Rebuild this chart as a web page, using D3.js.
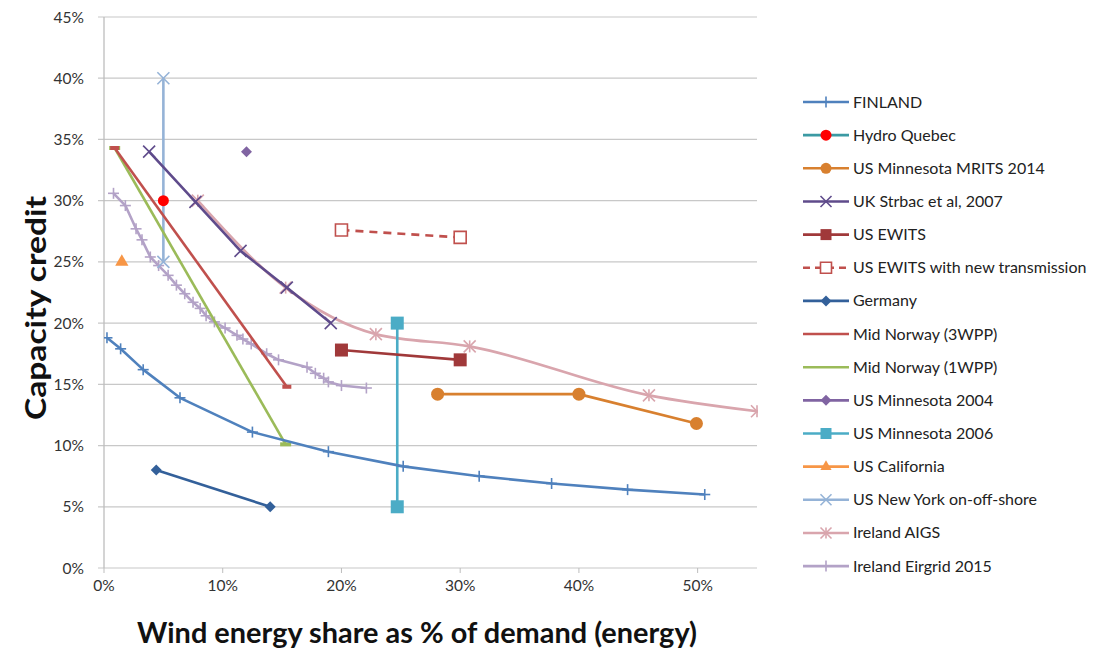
<!DOCTYPE html>
<html>
<head>
<meta charset="utf-8">
<script src="https://cdn.jsdelivr.net/npm/d3@7.9.0/dist/d3.min.js"></script>
<style>
  body { margin: 0; background: #fff; }
  svg { display: block; font-family: Lato, "Open Sans", sans-serif; }
</style>
</head>
<body>
<svg id="chart" width="1100" height="649"></svg>
<script>
// values, [wind share %, capacity credit %]
const finland = [[0.25, 18.8], [1.4, 17.9], [3.3, 16.2], [6.4, 13.9], [12.5, 11.1], [18.9, 9.5],
  [25.2, 8.3], [31.6, 7.5], [37.7, 6.9], [44.1, 6.4], [50.6, 6.0]];
const hydroQuebec = [[5.0, 30.0]];
const mritsMn2014 = [[28.1, 14.2], [40.0, 14.2], [49.9, 11.8]];
const ukStrbac = [[3.8, 34.0], [7.7, 29.9], [11.5, 25.9], [15.4, 22.9], [19.1, 20.0]];
const usEwits = [[20.0, 17.8], [30.0, 17.0]];
const usEwitsTrans = [[20.0, 27.6], [30.0, 27.0]];
const germany = [[4.4, 8.0], [14.0, 5.0]];
const midNorway3 = [[0.9, 34.3], [15.4, 14.8]];
const midNorway1 = [[0.9, 34.3], [15.3, 10.1]];
const usMn2004 = [[12.0, 34.0]];
const usMn2006 = [[24.7, 20.0], [24.7, 5.0]];
const usCalifornia = [[1.5, 25.0]];
const usNewYork = [[5.0, 40.0], [5.0, 25.0]];
const irelandAigs = [[7.9, 30.0], [15.3, 22.9], [22.9, 19.1], [30.8, 18.1], [45.9, 14.1], [55.0, 12.8]];
const irelandEirgrid = [[0.8, 30.6], [1.8, 29.6], [2.7, 27.7], [3.2, 26.8], [3.9, 25.4], [4.6, 24.7],
  [5.4, 23.9], [6.1, 23.1], [6.8, 22.4], [7.5, 21.7], [8.1, 21.2], [8.6, 20.6], [9.3, 20.1],
  [10.2, 19.6], [11.2, 19.0], [11.7, 18.7], [12.4, 18.3], [13.7, 17.5], [14.7, 17.0], [17.1, 16.4],
  [17.8, 15.9], [18.5, 15.5], [18.9, 15.2], [20.0, 14.9], [22.1, 14.7]];

const xTicks = [0, 10, 20, 30, 40, 50];
const yTicks = [0, 5, 10, 15, 20, 25, 30, 35, 40, 45];

// legend order + look
const series = [
  { name: 'FINLAND', data: finland, color: '#4f81bd', marker: 'plus', size: 11 },
  { name: 'Hydro Quebec', data: hydroQuebec, color: '#3b9aa3', marker: 'circle', size: 11, fill: '#ff0000' },
  { name: 'US Minnesota MRITS 2014', data: mritsMn2014, color: '#d8802f', marker: 'circle', size: 13 },
  { name: 'UK Strbac et al, 2007', data: ukStrbac, color: '#5f4b8b', marker: 'x', size: 12 },
  { name: 'US EWITS', data: usEwits, color: '#a0393a', marker: 'square', size: 13 },
  { name: 'US EWITS with new transmission', data: usEwitsTrans, color: '#c0504d', marker: 'opensquare', size: 12, dash: '8,6' },
  { name: 'Germany', data: germany, color: '#33609a', marker: 'diamond', size: 11 },
  { name: 'Mid Norway (3WPP)', data: midNorway3, color: '#c0504d', marker: 'dash', size: 9, noLegendMarker: true },
  { name: 'Mid Norway (1WPP)', data: midNorway1, color: '#9bbb59', marker: 'dash', size: 11, noLegendMarker: true },
  { name: 'US Minnesota 2004', data: usMn2004, color: '#8064a2', marker: 'diamond', size: 11 },
  { name: 'US Minnesota 2006', data: usMn2006, color: '#4bacc6', marker: 'square', size: 13 },
  { name: 'US California', data: usCalifornia, color: '#f79646', marker: 'triangle', size: 13 },
  { name: 'US New York on-off-shore', data: usNewYork, color: '#95b3d7', marker: 'x', size: 12 },
  { name: 'Ireland AIGS', data: irelandAigs, color: '#d9a5ad', marker: 'star', size: 12, smooth: true },
  { name: 'Ireland Eirgrid 2015', data: irelandEirgrid, color: '#b3a2c7', marker: 'plus', size: 11 }
];

const svg = d3.select('#chart');
const x = d3.scaleLinear().domain([0, 55]).range([104, 757]);
const y = d3.scaleLinear().domain([0, 45]).range([568, 17]);

// gridlines
svg.append('g')
  .selectAll('line')
  .data(yTicks)
  .join('line')
  .attr('x1', x(0) - 6).attr('x2', x(55))
  .attr('y1', d => y(d)).attr('y2', d => y(d))
  .attr('stroke', '#c8c8c8').attr('stroke-width', 1.2);

// axis lines
svg.append('line')
  .attr('x1', x(0)).attr('x2', x(0)).attr('y1', y(45)).attr('y2', y(0))
  .attr('stroke', '#bdbdbd').attr('stroke-width', 1.3);
svg.append('g')
  .selectAll('line')
  .data(xTicks)
  .join('line')
  .attr('x1', d => x(d)).attr('x2', d => x(d)).attr('y1', y(0)).attr('y2', y(0) + 5)
  .attr('stroke', '#bdbdbd');

// tick labels
svg.append('g')
  .selectAll('text')
  .data(yTicks)
  .join('text')
  .attr('x', 84).attr('y', d => y(d) + 5.5)
  .attr('text-anchor', 'end')
  .attr('font-size', 15.5).attr('fill', '#333')
  .text(d => d + '%');
svg.append('g')
  .selectAll('text')
  .data(xTicks)
  .join('text')
  .attr('x', d => x(d)).attr('y', 591)
  .attr('text-anchor', 'middle')
  .attr('font-size', 15.5).attr('fill', '#333')
  .text(d => d + '%');

// axis titles
svg.append('text')
  .attr('x', 417).attr('y', 643)
  .attr('text-anchor', 'middle')
  .attr('font-size', 28).attr('font-weight', 'bold').attr('fill', '#111')
  .attr('textLength', 560).attr('lengthAdjust', 'spacingAndGlyphs')
  .text('Wind energy share as % of demand (energy)');
svg.append('text')
  .attr('transform', 'translate(46,308) rotate(-90)')
  .attr('text-anchor', 'middle')
  .attr('font-size', 29).attr('font-weight', 'bold').attr('fill', '#111')
  .attr('textLength', 224).attr('lengthAdjust', 'spacingAndGlyphs')
  .text('Capacity credit');

// marker drawing
function drawMarker(g, s, cx, cy) {
  const h = s.size / 2;
  const t = `translate(${cx},${cy})`;
  if (s.marker === 'circle') {
    g.append('path').attr('transform', t)
      .attr('d', d3.symbol(d3.symbolCircle, Math.PI * h * h)())
      .attr('fill', s.fill || s.color);
  } else if (s.marker === 'square') {
    g.append('path').attr('transform', t)
      .attr('d', d3.symbol(d3.symbolSquare, s.size * s.size)())
      .attr('fill', s.color);
  } else if (s.marker === 'opensquare') {
    g.append('path').attr('transform', t)
      .attr('d', d3.symbol(d3.symbolSquare, s.size * s.size)())
      .attr('fill', '#fff').attr('stroke', s.color).attr('stroke-width', 1.6);
  } else if (s.marker === 'diamond') {
    g.append('path').attr('transform', t + ' rotate(45)')
      .attr('d', d3.symbol(d3.symbolSquare, s.size * s.size / 2)())
      .attr('fill', s.color);
  } else if (s.marker === 'triangle') {
    g.append('path').attr('transform', t)
      .attr('d', d3.symbol(d3.symbolTriangle, s.size * s.size * 0.45)())
      .attr('fill', s.color);
  } else if (s.marker === 'dash') {
    g.append('line').attr('transform', t)
      .attr('x1', -h).attr('x2', h).attr('y1', 0).attr('y2', 0)
      .attr('stroke', s.color).attr('stroke-width', 4);
  } else {
    // stroked crosses
    let arms = [];
    if (s.marker === 'plus') arms = [[0, -h, 0, h], [-h, 0, h, 0]];
    if (s.marker === 'x') arms = [[-h, -h, h, h], [-h, h, h, -h]];
    if (s.marker === 'star') arms = [[-h, -h, h, h], [-h, h, h, -h], [0, -h, 0, h]];
    g.append('g').attr('transform', t)
      .selectAll('line').data(arms).join('line')
      .attr('x1', d => d[0]).attr('y1', d => d[1]).attr('x2', d => d[2]).attr('y2', d => d[3])
      .attr('stroke', s.color).attr('stroke-width', 1.6);
  }
}

// clip to plot area
svg.append('clipPath').attr('id', 'plot')
  .append('rect').attr('x', x(0)).attr('y', 0).attr('width', x(55) - x(0) + 1).attr('height', y(0));

const plot = svg.append('g').attr('clip-path', 'url(#plot)');
const lineGen = d3.line().x(d => x(d[0])).y(d => y(d[1]));

// draw in reverse so FINLAND sits on top like excel
series.slice().reverse().forEach(s => {
  const g = plot.append('g');
  if (s.data.length > 1) {
    g.append('path')
      .datum(s.data)
      .attr('d', lineGen.curve(s.smooth ? d3.curveMonotoneX : d3.curveLinear))
      .attr('fill', 'none')
      .attr('stroke', s.color)
      .attr('stroke-width', 2.6)
      .attr('stroke-dasharray', s.dash || null)
      .attr('stroke-linejoin', 'round');
  }
  s.data.forEach(d => drawMarker(g, s, x(d[0]), y(d[1])));
});

// legend
const legend = svg.append('g');
series.forEach((s, i) => {
  const ly = 102 + i * 33.15;
  const g = legend.append('g');
  g.append('line')
    .attr('x1', 803).attr('x2', 849).attr('y1', ly).attr('y2', ly)
    .attr('stroke', s.color).attr('stroke-width', 2.6)
    .attr('stroke-dasharray', s.dash ? '7,5' : null);
  if (!s.noLegendMarker) drawMarker(g, { ...s, size: Math.min(s.size, 11) }, 826, ly);
  g.append('text')
    .attr('x', 853).attr('y', ly + 5.5)
    .attr('font-size', 16).attr('fill', '#222')
    .text(s.name);
});
</script>
</body>
</html>
